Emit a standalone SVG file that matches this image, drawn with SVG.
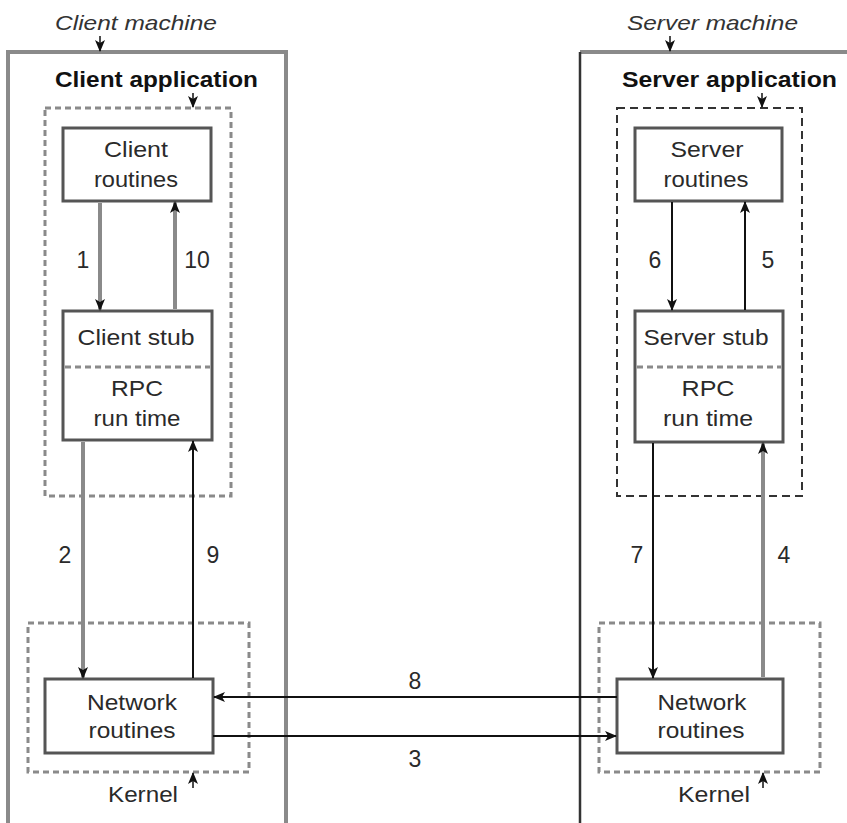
<svg xmlns="http://www.w3.org/2000/svg" width="847" height="823" viewBox="0 0 847 823">
  <style>
    .bg { fill: #ffffff; }
    .machine { fill: none; stroke: #8a8a8a; stroke-width: 4; }
    .machine-dark { fill: none; stroke: #333333; stroke-width: 2.5; }
    .zone { fill: none; stroke: #8a8a8a; stroke-width: 3; stroke-dasharray: 6 4; }
    .zone-dark { fill: none; stroke: #333333; stroke-width: 2; stroke-dasharray: 8 5; }
    .box { fill: #ffffff; stroke: #555555; stroke-width: 3; }
    .sep { fill: none; stroke: #8a8a8a; stroke-width: 3; stroke-dasharray: 6 4; }
    .t { font-family: "Liberation Sans", Arial, sans-serif; font-size: 22px; fill: #2a2a2a; text-anchor: middle; }
    .num { font-family: "Liberation Sans", Arial, sans-serif; font-size: 23px; fill: #2a2a2a; text-anchor: middle; }
    .mach { font-family: "Liberation Sans", Arial, sans-serif; font-size: 21px; font-style: italic; fill: #333333; text-anchor: middle; }
    .app { font-family: "Liberation Sans", Arial, sans-serif; font-size: 22px; font-weight: bold; fill: #111111; text-anchor: middle; }
    .gray { fill: none; stroke: #8a8a8a; stroke-width: 4; marker-end: url(#head); }
    .black { fill: none; stroke: #111111; stroke-width: 2; marker-end: url(#head); }
    .pointer { fill: none; stroke: #111111; stroke-width: 1.5; marker-end: url(#head); }
  </style>
  <defs>
    <marker id="head" viewBox="0 0 12 10" refX="11" refY="5" markerWidth="12" markerHeight="10" markerUnits="userSpaceOnUse" orient="auto">
      <path d="M0,0 L12,5 L0,10 L3,5 Z" fill="#111111"/>
    </marker>
  </defs>

  <rect class="bg" x="0" y="0" width="847" height="823"/>

  <!-- Client machine -->
  <g id="client-machine">
    <path class="machine" d="M8,823 V52 H286 V823"/>
    <text class="mach" x="136" y="30" textLength="162" lengthAdjust="spacingAndGlyphs">Client machine</text>
    <line class="pointer" x1="100" y1="36" x2="100" y2="51"/>
  </g>

  <g id="client-application">
    <rect class="zone" x="45" y="108" width="186" height="388"/>
    <text class="app" x="156.5" y="87" textLength="203" lengthAdjust="spacingAndGlyphs">Client application</text>
    <line class="pointer" x1="193" y1="93" x2="193" y2="107"/>
  </g>

  <g id="client-kernel">
    <rect class="zone" x="28" y="623" width="221" height="149"/>
    <text class="t" x="143" y="802" textLength="70" lengthAdjust="spacingAndGlyphs">Kernel</text>
    <line class="pointer" x1="193" y1="788" x2="193" y2="773"/>
  </g>

  <g id="client-routines">
    <rect class="box" x="63" y="128" width="148" height="73"/>
    <text class="t" x="136" y="157" textLength="64" lengthAdjust="spacingAndGlyphs">Client</text>
    <text class="t" x="136" y="187" textLength="84" lengthAdjust="spacingAndGlyphs">routines</text>
  </g>

  <g id="client-stub">
    <rect class="box" x="63" y="311" width="149" height="129"/>
    <line class="sep" x1="65" y1="367" x2="210" y2="367"/>
    <text class="t" x="136" y="345" textLength="117" lengthAdjust="spacingAndGlyphs">Client stub</text>
    <text class="t" x="137" y="396" textLength="52" lengthAdjust="spacingAndGlyphs">RPC</text>
    <text class="t" x="137" y="426" textLength="87" lengthAdjust="spacingAndGlyphs">run time</text>
  </g>

  <g id="client-network">
    <rect class="box" x="45" y="679" width="168" height="74"/>
    <text class="t" x="132" y="710" textLength="90" lengthAdjust="spacingAndGlyphs">Network</text>
    <text class="t" x="132" y="738" textLength="87" lengthAdjust="spacingAndGlyphs">routines</text>
  </g>

  <!-- Server machine -->
  <g id="server-machine">
    <line class="machine" x1="580" y1="52" x2="847" y2="52"/>
    <line class="machine-dark" x1="580" y1="52" x2="580" y2="823"/>
    <text class="mach" x="712.5" y="30" textLength="171" lengthAdjust="spacingAndGlyphs">Server machine</text>
    <line class="pointer" x1="670" y1="36" x2="670" y2="51"/>
  </g>

  <g id="server-application">
    <rect class="zone-dark" x="617" y="108" width="185" height="388"/>
    <text class="app" x="729.5" y="87" textLength="215" lengthAdjust="spacingAndGlyphs">Server application</text>
    <line class="pointer" x1="762" y1="93" x2="762" y2="107"/>
  </g>

  <g id="server-kernel">
    <rect class="zone" x="599" y="623" width="221" height="149"/>
    <text class="t" x="714" y="802" textLength="72" lengthAdjust="spacingAndGlyphs">Kernel</text>
    <line class="pointer" x1="763" y1="788" x2="763" y2="773"/>
  </g>

  <g id="server-routines">
    <rect class="box" x="635" y="128" width="147" height="73"/>
    <text class="t" x="707" y="157" textLength="73" lengthAdjust="spacingAndGlyphs">Server</text>
    <text class="t" x="706" y="187" textLength="85" lengthAdjust="spacingAndGlyphs">routines</text>
  </g>

  <g id="server-stub">
    <rect class="box" x="635" y="311" width="148" height="131"/>
    <line class="sep" x1="637" y1="367" x2="781" y2="367"/>
    <text class="t" x="706" y="345" textLength="125" lengthAdjust="spacingAndGlyphs">Server stub</text>
    <text class="t" x="708" y="396" textLength="53" lengthAdjust="spacingAndGlyphs">RPC</text>
    <text class="t" x="708" y="426" textLength="90" lengthAdjust="spacingAndGlyphs">run time</text>
  </g>

  <g id="server-network">
    <rect class="box" x="617" y="679" width="166" height="74"/>
    <text class="t" x="702" y="710" textLength="89" lengthAdjust="spacingAndGlyphs">Network</text>
    <text class="t" x="701" y="738" textLength="87" lengthAdjust="spacingAndGlyphs">routines</text>
  </g>

  <!-- Message flow, numbered in call order -->
  <g id="connectors">
    <line class="gray" x1="100" y1="203" x2="100" y2="310"/>
    <text class="num" x="83" y="268">1</text>

    <line class="gray" x1="83" y1="442" x2="83" y2="678"/>
    <text class="num" x="65" y="563">2</text>

    <line class="black" x1="213" y1="736" x2="616" y2="736"/>
    <text class="num" x="415" y="767">3</text>

    <line class="gray" x1="763" y1="677" x2="763" y2="443"/>
    <text class="num" x="784" y="563">4</text>

    <line class="black" x1="745" y1="310" x2="745" y2="202"/>
    <text class="num" x="768" y="268">5</text>

    <line class="black" x1="672" y1="202" x2="672" y2="310"/>
    <text class="num" x="655" y="268">6</text>

    <line class="black" x1="653" y1="443" x2="653" y2="678"/>
    <text class="num" x="637" y="563">7</text>

    <line class="black" x1="617" y1="697" x2="214" y2="697"/>
    <text class="num" x="415" y="689">8</text>

    <line class="black" x1="193" y1="678" x2="193" y2="441"/>
    <text class="num" x="213" y="563">9</text>

    <line class="gray" x1="175" y1="309" x2="175" y2="202"/>
    <text class="num" x="197" y="268">10</text>
  </g>
</svg>
